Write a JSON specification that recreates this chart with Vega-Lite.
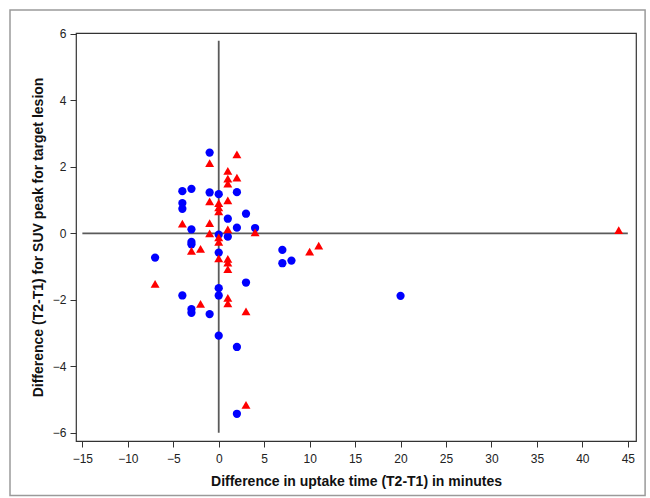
{
  "$schema": "https://vega.github.io/schema/vega-lite/v6.json",
  "width": 560,
  "height": 408,
  "autosize": {"type": "none"},
  "padding": {"left": 76, "top": 33, "right": 14, "bottom": 57},
  "background": "white",
  "config": {
    "view": {"stroke": "#333333", "strokeWidth": 1.2},
    "font": "Liberation Sans",
    "axis": {
      "grid": false,
      "domain": false,
      "tickColor": "#333333",
      "tickSize": 6,
      "labelFont": "Liberation Sans",
      "labelFontSize": 12,
      "labelColor": "#222222",
      "titleFont": "Liberation Sans",
      "titleFontSize": 14,
      "titleFontWeight": "bold",
      "titleColor": "#111111"
    }
  },
  "datasets": {
    "one": [{}],
    "points": [
      {"dt": -1, "dsuv": 2.43, "group": "B"},
      {"dt": -4, "dsuv": 1.27, "group": "B"},
      {"dt": -3, "dsuv": 1.34, "group": "B"},
      {"dt": -1, "dsuv": 1.23, "group": "B"},
      {"dt": 0, "dsuv": 1.18, "group": "B"},
      {"dt": 2, "dsuv": 1.24, "group": "B"},
      {"dt": -4, "dsuv": 0.91, "group": "B"},
      {"dt": -4, "dsuv": 0.74, "group": "B"},
      {"dt": 3, "dsuv": 0.59, "group": "B"},
      {"dt": 1, "dsuv": 0.44, "group": "B"},
      {"dt": -3, "dsuv": 0.12, "group": "B"},
      {"dt": 2, "dsuv": 0.17, "group": "B"},
      {"dt": 4, "dsuv": 0.16, "group": "B"},
      {"dt": 0, "dsuv": -0.04, "group": "B"},
      {"dt": 1, "dsuv": -0.1, "group": "B"},
      {"dt": -3, "dsuv": -0.26, "group": "B"},
      {"dt": -3, "dsuv": -0.33, "group": "B"},
      {"dt": 0, "dsuv": -0.58, "group": "B"},
      {"dt": -7, "dsuv": -0.73, "group": "B"},
      {"dt": 7, "dsuv": -0.5, "group": "B"},
      {"dt": 7, "dsuv": -0.9, "group": "B"},
      {"dt": 8, "dsuv": -0.82, "group": "B"},
      {"dt": 3, "dsuv": -1.48, "group": "B"},
      {"dt": 0, "dsuv": -1.65, "group": "B"},
      {"dt": -4, "dsuv": -1.87, "group": "B"},
      {"dt": 0, "dsuv": -1.87, "group": "B"},
      {"dt": 20, "dsuv": -1.88, "group": "B"},
      {"dt": -3, "dsuv": -2.28, "group": "B"},
      {"dt": -3, "dsuv": -2.39, "group": "B"},
      {"dt": -1, "dsuv": -2.43, "group": "B"},
      {"dt": 0, "dsuv": -3.08, "group": "B"},
      {"dt": 2, "dsuv": -3.42, "group": "B"},
      {"dt": 2, "dsuv": -5.43, "group": "B"},
      {"dt": 2, "dsuv": 2.38, "group": "R"},
      {"dt": -1, "dsuv": 2.11, "group": "R"},
      {"dt": 1, "dsuv": 1.88, "group": "R"},
      {"dt": 1, "dsuv": 1.65, "group": "R"},
      {"dt": 1, "dsuv": 1.5, "group": "R"},
      {"dt": 2, "dsuv": 1.68, "group": "R"},
      {"dt": -1, "dsuv": 0.96, "group": "R"},
      {"dt": 0, "dsuv": 0.91, "group": "R"},
      {"dt": 0, "dsuv": 0.78, "group": "R"},
      {"dt": 0, "dsuv": 0.66, "group": "R"},
      {"dt": 1, "dsuv": 0.99, "group": "R"},
      {"dt": -4, "dsuv": 0.29, "group": "R"},
      {"dt": -1, "dsuv": 0.31, "group": "R"},
      {"dt": 4, "dsuv": 0.03, "group": "R"},
      {"dt": -1, "dsuv": 0.0, "group": "R"},
      {"dt": 1, "dsuv": 0.12, "group": "R"},
      {"dt": 0, "dsuv": -0.12, "group": "R"},
      {"dt": 0, "dsuv": -0.26, "group": "R"},
      {"dt": -2, "dsuv": -0.47, "group": "R"},
      {"dt": -3, "dsuv": -0.53, "group": "R"},
      {"dt": 0, "dsuv": -0.75, "group": "R"},
      {"dt": 1, "dsuv": -0.77, "group": "R"},
      {"dt": 1, "dsuv": -0.88, "group": "R"},
      {"dt": 1, "dsuv": -1.08, "group": "R"},
      {"dt": -7, "dsuv": -1.52, "group": "R"},
      {"dt": 1, "dsuv": -1.94, "group": "R"},
      {"dt": 1, "dsuv": -2.11, "group": "R"},
      {"dt": -2, "dsuv": -2.12, "group": "R"},
      {"dt": 3, "dsuv": -2.35, "group": "R"},
      {"dt": 3, "dsuv": -5.16, "group": "R"},
      {"dt": 10, "dsuv": -0.55, "group": "R"},
      {"dt": 11, "dsuv": -0.37, "group": "R"},
      {"dt": 44, "dsuv": 0.1, "group": "R"}
    ]
  },
  "layer": [
    {
      "data": {"name": "one"},
      "mark": {"type": "rect", "filled": false, "stroke": "#9a9a9a", "strokeWidth": 1.5, "clip": false},
      "encoding": {
        "x": {"datum": -22.96, "type": "quantitative", "scale": {"domain": [-15.7, 45.9], "nice": false, "zero": false}},
        "x2": {"datum": 46.9},
        "y": {"datum": 6.72, "type": "quantitative", "scale": {"domain": [-6.25, 6.03], "nice": false, "zero": false}},
        "y2": {"datum": -7.89}
      }
    },
    {
      "data": {"name": "one"},
      "mark": {"type": "rule", "color": "#5a5a5a", "strokeWidth": 1.8},
      "encoding": {
        "x": {"datum": 0, "type": "quantitative"},
        "y": {"datum": -6, "type": "quantitative"},
        "y2": {"datum": 5.8}
      }
    },
    {
      "data": {"name": "one"},
      "mark": {"type": "rule", "color": "#5a5a5a", "strokeWidth": 1.8},
      "encoding": {
        "y": {"datum": 0, "type": "quantitative"},
        "x": {"datum": -15, "type": "quantitative"},
        "x2": {"datum": 45}
      }
    },
    {
      "data": {"name": "points"},
      "mark": {"type": "point", "filled": true, "opacity": 1},
      "encoding": {
        "x": {
          "field": "dt",
          "type": "quantitative",
          "axis": {
            "title": "Difference in uptake time (T2-T1) in minutes",
            "values": [-15, -10, -5, 0, 5, 10, 15, 20, 25, 30, 35, 40, 45],
            "labelPadding": 6,
            "titlePadding": 10
          }
        },
        "y": {
          "field": "dsuv",
          "type": "quantitative",
          "axis": {
            "title": "Difference (T2-T1) for SUV peak for target lesion",
            "values": [-6, -4, -2, 0, 2, 4, 6],
            "labelPadding": 4,
            "titlePadding": 7
          }
        },
        "color": {
          "field": "group",
          "type": "nominal",
          "scale": {"domain": ["B", "R"], "range": ["#0000ff", "#ff0000"]},
          "legend": null
        },
        "shape": {
          "field": "group",
          "type": "nominal",
          "scale": {"domain": ["B", "R"], "range": ["circle", "triangle-up"]},
          "legend": null
        },
        "size": {
          "field": "group",
          "type": "nominal",
          "scale": {"domain": ["B", "R"], "range": [68, 80]},
          "legend": null
        }
      }
    }
  ]
}
